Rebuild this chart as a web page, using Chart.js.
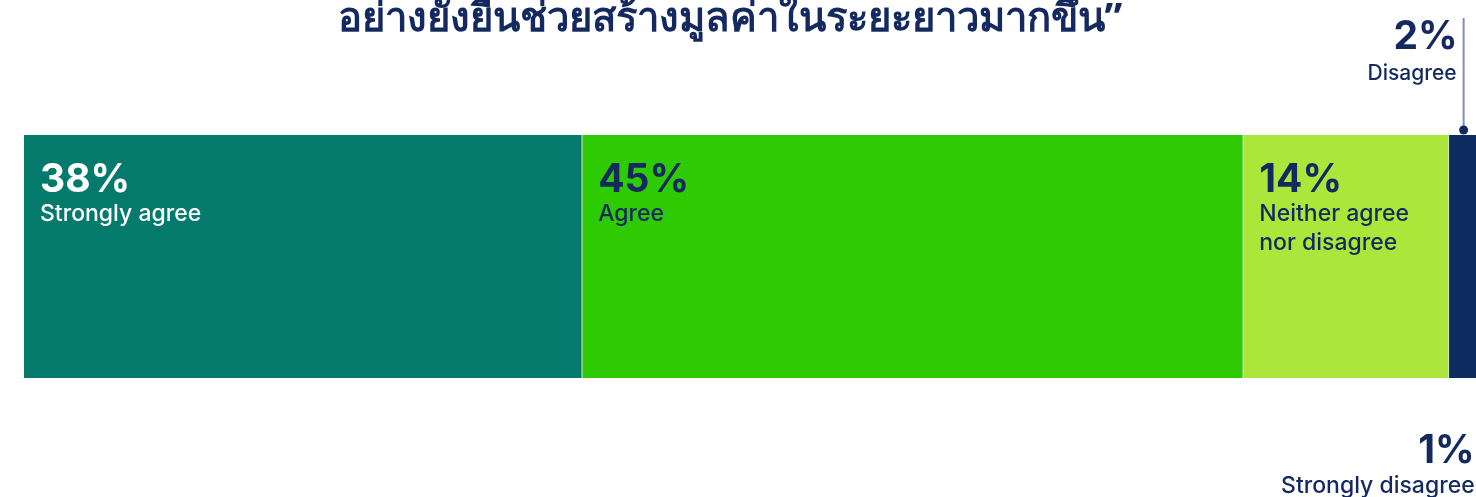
<!DOCTYPE html>
<html>
<head>
<meta charset="utf-8">
<script src="https://cdn.jsdelivr.net/npm/chart.js@4.4.1/dist/chart.umd.min.js"></script>
<style>
  html, body { margin: 0; padding: 0; background: #ffffff; overflow: hidden; }
  #wrap { width: 1476px; height: 497px; overflow: hidden; position: relative; }
  canvas { display: block; }
</style>
</head>
<body>
<div id="wrap"><canvas id="c" width="1500" height="497" style="width:1500px;height:497px"></canvas></div>
<script>
const titleText = "อย่างยั่งยืนช่วยสร้างมูลค่าในระยะยาวมากขึ้น”";
const categories = ["Response"];
const seriesNames = ["Strongly agree", "Agree", "Neither agree\nnor disagree", "Disagree", "Strongly disagree"];
const seriesValues = [38, 45, 14, 2, 1];
const seriesColors = ["#037A6C", "#2ECA02", "#ACE63A", "#0C2C62", "#3A5A8C"];
const labelColors = ["#FFFFFF", "#14295F", "#14295F", "#14295F", "#14295F"];
const labelPlacement = ["inside", "inside", "inside", "above", "below"];

const NAVY = "#14295F";
const FONT = "Inter, 'Open Sans', 'Noto Sans', sans-serif";

const datasets = seriesValues.map((v, i) => ({
  label: seriesNames[i],
  data: [v],
  backgroundColor: seriesColors[i],
  borderColor: "#DCE8E4",
  borderWidth: { left: 0, right: 1, top: 0, bottom: 0 },
  borderSkipped: false,
  barPercentage: 1,
  categoryPercentage: 1
}));

const titlePlugin = {
  id: "thaiTitle",
  afterDraw(chart) {
    const ctx = chart.ctx;
    ctx.save();
    ctx.fillStyle = NAVY;
    ctx.font = "bold 40px 'Noto Sans', sans-serif";
    ctx.textAlign = "center";
    ctx.textBaseline = "alphabetic";
    ctx.fillText(titleText, 730, 31);
    ctx.restore();
  }
};

const labelPlugin = {
  id: "segLabels",
  afterDatasetsDraw(chart) {
    const ctx = chart.ctx;
    ctx.save();
    chart.data.datasets.forEach((ds, i) => {
      const el = chart.getDatasetMeta(i).data[0];
      if (!el) return;
      const left = Math.min(el.x, el.base);
      const right = Math.max(el.x, el.base);
      const top = el.y - el.height / 2;
      const bottom = el.y + el.height / 2;
      const pct = seriesValues[i] + "%";
      const lines = seriesNames[i].split("\n");
      ctx.fillStyle = labelColors[i];
      ctx.textBaseline = "alphabetic";
      if (labelPlacement[i] === "inside") {
        const x = left + 16;
        ctx.textAlign = "left";
        ctx.font = "bold 39px " + FONT;
        ctx.fillText(pct, x, top + 57);
        ctx.font = "500 23px " + FONT;
        lines.forEach((ln, k) => ctx.fillText(ln, x, top + 86 + k * 29));
      } else if (labelPlacement[i] === "above") {
        const cx = (left + right) / 2;
        ctx.strokeStyle = "#8190B3";
        ctx.lineWidth = 2;
        ctx.beginPath();
        ctx.moveTo(cx, 18);
        ctx.lineTo(cx, top - 5);
        ctx.stroke();
        ctx.fillStyle = NAVY;
        ctx.beginPath();
        ctx.arc(cx, top - 5, 4.5, 0, Math.PI * 2);
        ctx.fill();
        ctx.textAlign = "right";
        ctx.font = "bold 39px " + FONT;
        ctx.fillText(pct, cx - 6, top - 86);
        ctx.font = "500 21px " + FONT;
        ctx.fillText(lines[0], cx - 7, top - 55);
      } else {
        const cx = (left + right) / 2;
        ctx.textAlign = "right";
        ctx.font = "bold 39px " + FONT;
        ctx.fillText(pct, cx - 11, bottom + 85);
        ctx.font = "500 23px " + FONT;
        ctx.fillText(lines[0], cx - 11, bottom + 115);
      }
    });
    ctx.restore();
  }
};

new Chart(document.getElementById("c"), {
  type: "bar",
  data: { labels: categories, datasets },
  options: {
    indexAxis: "y",
    responsive: false,
    animation: false,
    layout: { padding: { left: 24, right: 7, top: 135, bottom: 119 } },
    scales: {
      x: { stacked: true, min: 0, max: 100, display: false },
      y: { stacked: true, display: false }
    },
    plugins: {
      legend: { display: false },
      tooltip: { enabled: false },
      title: { display: false }
    }
  },
  plugins: [titlePlugin, labelPlugin]
});
</script>
</body>
</html>
